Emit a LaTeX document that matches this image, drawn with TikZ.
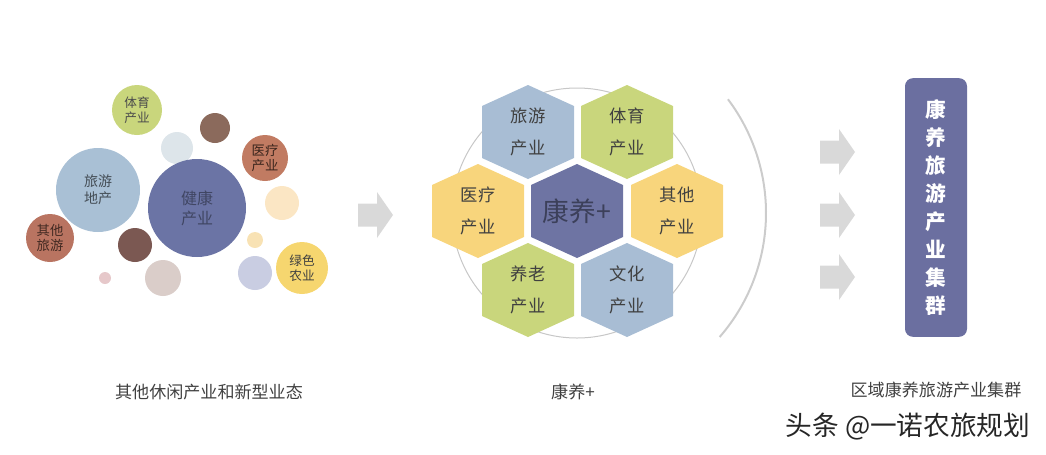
\documentclass[tikz,border=0pt]{standalone}
\usepackage{fontspec}
\setmainfont{Noto Sans CJK SC}

\definecolor{hexblue}{HTML}{A8BDD4}
\definecolor{hexgreen}{HTML}{C9D67C}
\definecolor{hexyellow}{HTML}{F8D57C}
\definecolor{hexcore}{HTML}{6E74A3}
\definecolor{clusterblue}{HTML}{6B6FA0}
\definecolor{arrowgray}{HTML}{D9D9D9}
\definecolor{textgray}{HTML}{404040}
\definecolor{ballgreen}{HTML}{C9D67C}
\definecolor{ballbrown}{HTML}{8B6A5C}
\definecolor{ballice}{HTML}{DDE5EA}
\definecolor{ballrust}{HTML}{C17B62}
\definecolor{ballsky}{HTML}{A9C0D5}
\definecolor{ballnavy}{HTML}{6B74A5}
\definecolor{ballcream}{HTML}{FBE6C4}
\definecolor{ballclay}{HTML}{B97461}
\definecolor{balldark}{HTML}{7B5852}
\definecolor{ballsand}{HTML}{F8E2B4}
\definecolor{ballstone}{HTML}{DACDC9}
\definecolor{ballpink}{HTML}{E6C8CA}
\definecolor{balllilac}{HTML}{C9CDE2}
\definecolor{ballgold}{HTML}{F6D66F}

\begin{document}
\begin{tikzpicture}[x=0.75pt,y=-0.75pt,line join=round,
    bubble/.style={circle,inner sep=0pt,align=center,text=textgray},
    hextext/.style={align=center,text=textgray,font=\fontsize{13}{24}\selectfont},
    caption/.style={text=textgray,font=\fontsize{12.8}{15}\selectfont}]
  \useasboundingbox (0,0) rectangle (1046,454);

  % left: bubbles
  \foreach \x/\y/\d/\c [count=\i] in {215/128/22.5/ballbrown, 177/148/24/ballice,
      282/203/25.5/ballcream, 135/245/25.5/balldark, 255/240/12/ballsand,
      163/278/27/ballstone, 105/278/9/ballpink, 255/273/25.5/balllilac}{
    \node[bubble,fill=\c,minimum size=\d pt] (dot\i) at (\x,\y) {};
  }
  \node[bubble,fill=ballgreen,minimum size=37.5pt,font=\fontsize{9.5}{11.5}\selectfont,text=black!70] (tiyu) at (137,110) {体育\\产业};
  \node[bubble,fill=ballrust,minimum size=34.5pt,font=\fontsize{10}{11.5}\selectfont,text=black!70!ballrust] (yiliaoball) at (265,158) {医疗\\产业};
  \node[bubble,fill=ballsky,minimum size=63pt,font=\fontsize{10.5}{13}\selectfont,text=black!60!ballsky] (dichan) at (98,190) {旅游\\地产};
  \node[bubble,fill=ballnavy,minimum size=73.5pt,font=\fontsize{12}{15}\selectfont,text=black!40!ballnavy] (jiankang) at (197,208) {健康\\产业};
  \node[bubble,fill=ballclay,minimum size=36pt,font=\fontsize{10}{11.5}\selectfont,text=black!65!ballclay] (qitalv) at (50,238) {其他\\旅游};
  \node[bubble,fill=ballgold,minimum size=39pt,font=\fontsize{9.5}{11.5}\selectfont,text=black!75] (nongye) at (302,268) {绿色\\农业};

  % arrow to the middle
  \fill[arrowgray] (358,203.5) -- (377,203.5) -- (377,192) -- (393,215) -- (377,238) -- (377,226.5) -- (358,226.5) -- cycle;

  % middle: ring and hexagons
  \coordinate (hub) at (577,213);
  \draw[black!22,line width=0.75pt] (hub) circle[radius=125];
  \draw[black!20,line width=1.5pt] (hub) ++(-37:189) arc (-37:41:189);
  \foreach \cx/\cy/\c/\n/\t in {528/132/hexblue/lvyou/{旅游\\产业}, 627/132/hexgreen/tiyuhex/{体育\\产业},
      478/211/hexyellow/yiliao/{医疗\\产业}, 677/211/hexyellow/qita/{其他\\产业},
      528/290/hexgreen/yanglao/{养老\\产业}, 627/290/hexblue/wenhua/{文化\\产业}}{
    \fill[\c] (\cx-46,\cy-26) -- (\cx,\cy-47) -- (\cx+46,\cy-26) -- (\cx+46,\cy+26) -- (\cx,\cy+47) -- (\cx-46,\cy+26) -- cycle;
    \node[hextext] (\n) at (\cx,\cy) {\t};
  }
  \fill[hexcore] (531,185) -- (577,164) -- (623,185) -- (623,237) -- (577,258) -- (531,237) -- cycle;
  \node[text=black!45!hexcore,font=\fontsize{20}{24}\selectfont] (kangyang) at (577,211) {康养+};

  % right: arrows and cluster
  \foreach \y in {152,215,277}{
    \fill[arrowgray] (820,\y-11.5) -- (839,\y-11.5) -- (839,\y-23) -- (855,\y) -- (839,\y+23) -- (839,\y+11.5) -- (820,\y+11.5) -- cycle;
  }
  \node[fill=clusterblue,rounded corners=6pt,minimum width=46.5pt,minimum height=194pt,text=white,align=center,
        font=\fontsize{15.5}{21}\selectfont\bfseries] (cluster) at (936,207.5) {康\\养\\旅\\游\\产\\业\\集\\群};

  % captions
  \node[caption] (capleft) at (209,392) {其他休闲产业和新型业态};
  \node[caption] (capmid) at (573,392) {康养+};
  \node[caption] (capright) at (936,390) {区域康养旅游产业集群};
  \node[text=black!85,font=\fontsize{20}{24}\selectfont] (source) at (908,427) {头条 @一诺农旅规划};
\end{tikzpicture}
\end{document}
